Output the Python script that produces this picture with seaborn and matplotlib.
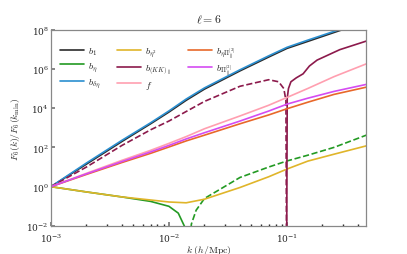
import numpy as np
import matplotlib
matplotlib.use("Agg")
import matplotlib.pyplot as plt
import seaborn as sns

# ──────────────────────────────────────────
# Data (log-log)
# ──────────────────────────────────────────
k_grid = [0.001, 0.002, 0.004, 0.007, 0.01, 0.014, 0.02, 0.04, 0.07, 0.1, 0.15, 0.25, 0.47]

b1 = [1, 1.4e1, 2.0e2, 1.6e3, 6.3e3, 2.5e4, 9.3e4, 7.9e5, 4.0e6, 1.1e7, 2.5e7, 7.1e7, 2.5e8]
b_deta = [1, 1.6e1, 2.3e2, 1.8e3, 7.2e3, 2.9e4, 1.07e5, 9.0e5, 4.6e6, 1.25e7, 2.9e7, 8.1e7, 2.9e8]
b_eta2 = [1, 0.54, 0.30, 0.21, 0.166, 0.151, 0.23, 0.91, 3.2, 7.9, 20, 45, 120]
f_growth = [1, 4.8, 22, 71, 160, 355, 890, 4.0e3, 1.4e4, 3.5e4, 1.0e5, 4.0e5, 1.8e6]
b_etaPi = [1, 4.2, 17, 50, 105, 214, 420, 1.6e3, 4.5e3, 9.3e3, 2.0e4, 5.0e4, 1.17e5]
b_Pi = [1, 4.5, 19, 59, 126, 270, 560, 2.2e3, 7.1e3, 1.6e4, 3.2e4, 7.1e4, 1.62e5]

# b_eta: positive (solid) up to the zero crossing, negative (dashed) after
k_eta_pos = [0.001, 0.002, 0.004, 0.007, 0.01, 0.012, 0.0135, 0.0145]
b_eta_pos = [1, 0.54, 0.30, 0.178, 0.10, 0.045, 0.01, 1e-4]
k_eta_neg = [0.0145, 0.0155, 0.017, 0.02, 0.04, 0.07, 0.1, 0.15, 0.25, 0.47]
b_eta_neg = [1e-4, 0.0125, 0.063, 0.25, 2.95, 10, 20.4, 40, 100, 420]

# b_(KK)par: negative (dashed) up to k ~ 0.1, positive (solid) after
k_kk_neg = [0.001, 0.002, 0.004, 0.007, 0.01, 0.02, 0.04, 0.07, 0.085, 0.094, 0.098, 0.0993]
b_kk_neg = [1, 10, 1.26e2, 7.9e2, 2.2e3, 2.2e4, 1.3e5, 2.8e5, 2.2e5, 1.0e5, 2.5e4, 1e-4]
k_kk_pos = [0.0993, 0.1005, 0.103, 0.108, 0.12, 0.137, 0.155, 0.18, 0.28, 0.47]
b_kk_pos = [1e-4, 3.2e4, 1.0e5, 2.2e5, 3.5e5, 5.6e5, 1.4e6, 2.8e6, 9.5e6, 2.6e7]

colors = {
    "b1": "#2b2b2b",
    "eta": "#239a23",
    "deta": "#2b8fd0",
    "eta2": "#e0b52a",
    "kk": "#8c1a4c",
    "f": "#ff9fb0",
    "etaPi": "#e8682a",
    "Pi": "#d44cf2",
}

# ──────────────────────────────────────────
# Style
# ──────────────────────────────────────────
sns.set_theme(style="ticks")
plt.rcParams["font.family"] = ["DejaVu Serif"]
plt.rcParams["mathtext.fontset"] = "cm"
plt.rcParams["xtick.direction"] = "in"
plt.rcParams["ytick.direction"] = "in"

fig, ax = plt.subplots(figsize=(4.07, 2.55), dpi=100)
fig.subplots_adjust(left=0.125, right=0.9, bottom=0.11, top=0.88)
ax.set(xscale="log", yscale="log")

lw = 1.2
sns.lineplot(x=k_grid, y=b1, ax=ax, color=colors["b1"], lw=lw, label=r"$b_1$")
sns.lineplot(x=k_eta_pos, y=b_eta_pos, ax=ax, color=colors["eta"], lw=lw, label=r"$b_\eta$")
sns.lineplot(x=k_eta_neg, y=b_eta_neg, ax=ax, color=colors["eta"], lw=lw, linestyle="--")
sns.lineplot(x=k_grid, y=b_deta, ax=ax, color=colors["deta"], lw=lw, label=r"$b_{\delta\eta}$")
sns.lineplot(x=k_grid, y=b_eta2, ax=ax, color=colors["eta2"], lw=lw, label=r"$b_{\eta^2}$")
sns.lineplot(x=k_kk_pos, y=b_kk_pos, ax=ax, color=colors["kk"], lw=lw, label=r"$b_{(KK)_\parallel}$")
sns.lineplot(x=k_kk_neg, y=b_kk_neg, ax=ax, color=colors["kk"], lw=lw, linestyle="--")
sns.lineplot(x=k_grid, y=f_growth, ax=ax, color=colors["f"], lw=lw, label=r"$f$")
sns.lineplot(x=k_grid, y=b_etaPi, ax=ax, color=colors["etaPi"], lw=lw, label=r"$b_{\eta\Pi^{[2]}_\parallel}$")
sns.lineplot(x=k_grid, y=b_Pi, ax=ax, color=colors["Pi"], lw=lw, label=r"$b_{\Pi^{[2]}_\parallel}$")

ax.set_xlim(1e-3, 0.47)
ax.set_ylim(1e-2, 1e8)
ax.set_yticks([1e-2, 1e0, 1e2, 1e4, 1e6, 1e8])
ax.yaxis.set_minor_locator(matplotlib.ticker.NullLocator())
ax.tick_params(labelsize=6.5, length=3, pad=1.5, color="#777777")
ax.tick_params(axis="x", pad=4)
ax.tick_params(which="minor", length=1.5)
for sp in ax.spines.values():
    sp.set_color("#888888")
    sp.set_linewidth(0.9)

ax.set_xlabel(r"$k\ (h/\mathrm{Mpc})$", fontsize=7, labelpad=-1)
ax.set_ylabel(r"$F_6(k)/F_6(k_{\rm min})$", fontsize=7, labelpad=3)
ax.set_title(r"$\ell = 6$", fontsize=8.5, pad=5)

ax.legend(loc="upper left", bbox_to_anchor=(0, 0.965), ncol=3, frameon=False,
          fontsize=7, handlelength=2.5, columnspacing=1.7, labelspacing=0.3,
          handletextpad=0.4, borderaxespad=0.5)

fig.savefig("out.png", dpi=100)
